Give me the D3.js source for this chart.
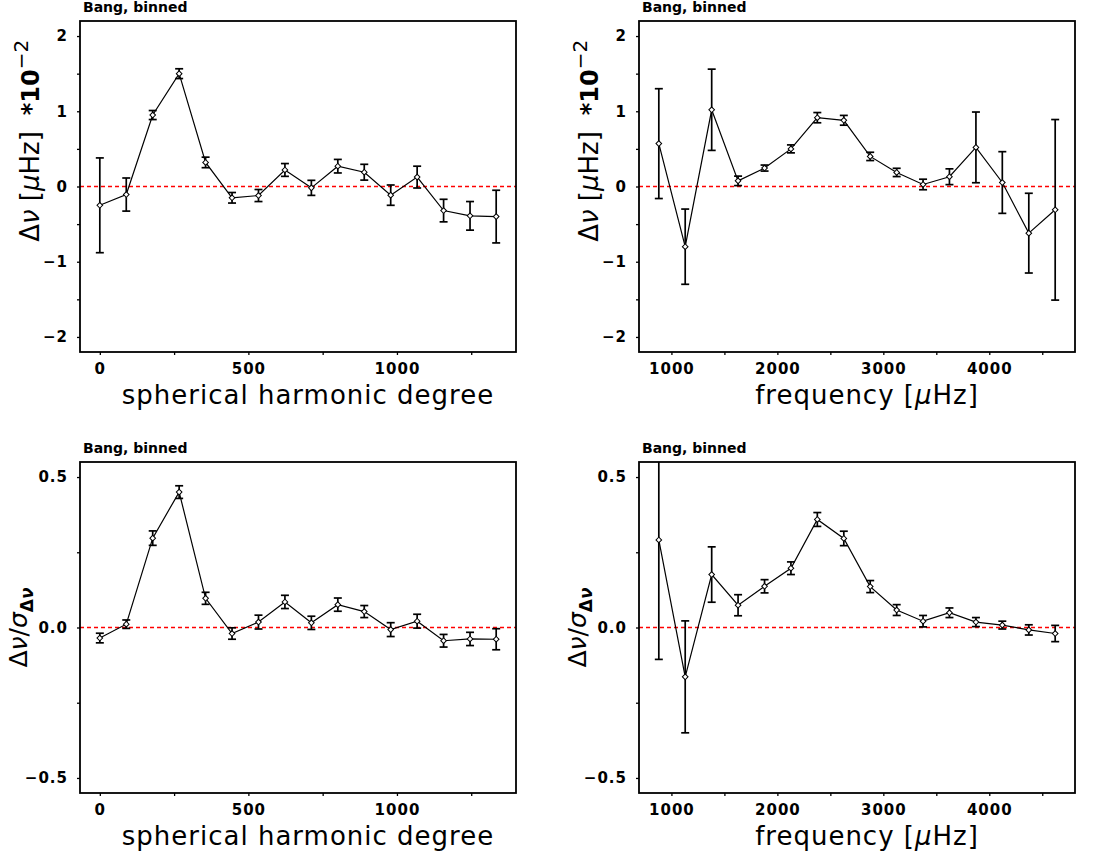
<!DOCTYPE html>
<html>
<head>
<meta charset="utf-8">
<script src="https://cdn.jsdelivr.net/npm/d3@7"></script>
<style>
  body { margin: 0; background: #fff; }
  svg { display: block; font-family: "DejaVu Sans", sans-serif; }
</style>
</head>
<body>
<script>
// bin centres
var degree = [0, 89, 178, 267, 356, 445, 534, 623, 712, 801, 890, 979, 1068, 1157, 1246, 1334];
var freq = [881, 1130, 1380, 1629, 1879, 2128, 2377, 2627, 2876, 3126, 3375, 3624, 3874, 4123, 4373, 4622];

// delta nu (units of 1e-2 microHz) and errors
var dnuDeg = [-0.25, -0.107, 0.95, 1.50, 0.32, -0.15, -0.12, 0.22, -0.018, 0.27, 0.19, -0.115, 0.125, -0.32, -0.39, -0.40];
var errDnuDeg = [0.63, 0.22, 0.06, 0.065, 0.07, 0.07, 0.08, 0.085, 0.10, 0.09, 0.105, 0.135, 0.145, 0.15, 0.19, 0.35];
var dnuFreq = [0.57, -0.80, 1.02, 0.075, 0.245, 0.50, 0.915, 0.88, 0.40, 0.187, 0.027, 0.13, 0.52, 0.053, -0.62, -0.31];
var errDnuFreq = [0.73, 0.50, 0.54, 0.063, 0.04, 0.053, 0.068, 0.065, 0.055, 0.055, 0.07, 0.105, 0.47, 0.41, 0.53, 1.20];

// delta nu / sigma
var ratioDeg = [-0.035, 0.011, 0.297, 0.45, 0.097, -0.02, 0.018, 0.085, 0.0155, 0.076, 0.053, -0.007, 0.021, -0.044, -0.038, -0.039];
var errRatioDeg = [0.016, 0.014, 0.024, 0.021, 0.02, 0.019, 0.023, 0.022, 0.022, 0.022, 0.02, 0.023, 0.023, 0.021, 0.022, 0.035];
var ratioFreq = [0.291, -0.164, 0.176, 0.074, 0.137, 0.197, 0.359, 0.296, 0.136, 0.058, 0.021, 0.049, 0.018, 0.008, -0.008, -0.02];
var errRatioFreq = [0.397, 0.186, 0.092, 0.035, 0.022, 0.021, 0.023, 0.024, 0.02, 0.018, 0.019, 0.016, 0.015, 0.013, 0.017, 0.027];

// ticks
var degTicks = [0, 250, 500, 750, 1000, 1250];
var degLabels = [0, 500, 1000];
var freqTicks = [1000, 1500, 2000, 2500, 3000, 3500, 4000, 4500];
var freqLabels = [1000, 2000, 3000, 4000];
var dnuTicks = [-2, -1.5, -1, -0.5, 0, 0.5, 1, 1.5, 2];
var dnuLabels = [-2, -1, 0, 1, 2];
var ratioTicks = [-0.5, -0.25, 0, 0.25, 0.5];
var ratioLabels = [-0.5, 0, 0.5];

var panelTitle = "Bang, binned";

var svg = d3.select("body").append("svg")
    .attr("width", 1101)
    .attr("height", 859);

var panels = [
  {left: 80, top: 21, xs: degree, ys: dnuDeg, es: errDnuDeg, yDom: [-2.2, 2.2],
   xt: degTicks, xl: degLabels, yt: dnuTicks, yl: dnuLabels, yfmt: d3.format("d"), xTitle: "deg", yTitle: "dnu"},
  {left: 639, top: 21, xs: freq, ys: dnuFreq, es: errDnuFreq, yDom: [-2.2, 2.2],
   xt: freqTicks, xl: freqLabels, yt: dnuTicks, yl: dnuLabels, yfmt: d3.format("d"), xTitle: "freq", yTitle: "dnu"},
  {left: 80, top: 462, xs: degree, ys: ratioDeg, es: errRatioDeg, yDom: [-0.55, 0.55],
   xt: degTicks, xl: degLabels, yt: ratioTicks, yl: ratioLabels, yfmt: d3.format(".1f"), xTitle: "deg", yTitle: "ratio"},
  {left: 639, top: 462, xs: freq, ys: ratioFreq, es: errRatioFreq, yDom: [-0.55, 0.55],
   xt: freqTicks, xl: freqLabels, yt: ratioTicks, yl: ratioLabels, yfmt: d3.format(".1f"), xTitle: "freq", yTitle: "ratio"}
];

var width = 436, height = 331;

// restyle an axis like the original plot
function styleAxis(a) {
    a.attr("font-size", 15)
     .attr("font-family", "DejaVu Sans")
     .attr("font-weight", "bold");
    a.select(".domain").remove();
    a.selectAll(".tick line").attr("stroke", "#000").attr("stroke-width", 1.3);
    a.selectAll(".tick text")
        .attr("font-size", 15)
        .attr("letter-spacing", 1)
        .attr("fill", "#000");
}

panels.forEach(function(p, idx) {
    var g = svg.append("g").attr("transform", "translate(" + p.left + "," + p.top + ")");

    // x range padded by 5% like the original plot
    var ext = d3.extent(p.xs), pad = (ext[1] - ext[0]) * 0.05;
    var x = d3.scaleLinear().domain([ext[0] - pad, ext[1] + pad]).range([0, width]);
    var y = d3.scaleLinear().domain(p.yDom).range([height, 0]);

    var clipId = "clip" + idx;
    g.append("clipPath").attr("id", clipId)
      .append("rect").attr("width", width).attr("height", height);

    // axes
    g.append("g")
        .attr("transform", "translate(0," + height + ")")
        .call(d3.axisBottom(x).tickValues(p.xt).tickSize(3).tickPadding(8)
            .tickFormat(function(d) { return p.xl.indexOf(d) >= 0 ? d : ""; }))
        .call(styleAxis);

    g.append("g")
        .call(d3.axisLeft(y).tickValues(p.yt).tickSize(3).tickPadding(9)
            .tickFormat(function(d) { return p.yl.indexOf(d) >= 0 ? p.yfmt(d) : ""; }))
        .call(styleAxis);

    var plot = g.append("g").attr("clip-path", "url(#" + clipId + ")");

    // zero line
    plot.append("line")
        .attr("x1", 0).attr("x2", width)
        .attr("y1", y(0)).attr("y2", y(0))
        .attr("stroke", "#ff0000")
        .attr("stroke-width", 1.3)
        .attr("stroke-dasharray", "4,3");

    var pts = p.xs.map(function(v, i) { return {x: v, y: p.ys[i], e: p.es[i]}; });

    // error bars
    var eb = plot.selectAll("g.err").data(pts).enter().append("g").attr("class", "err")
        .attr("stroke", "#000").attr("stroke-width", 1.7);
    eb.append("line")
        .attr("x1", function(d) { return x(d.x); }).attr("x2", function(d) { return x(d.x); })
        .attr("y1", function(d) { return y(d.y - d.e); }).attr("y2", function(d) { return y(d.y + d.e); });
    eb.append("line")
        .attr("x1", function(d) { return x(d.x) - 4; }).attr("x2", function(d) { return x(d.x) + 4; })
        .attr("y1", function(d) { return y(d.y + d.e); }).attr("y2", function(d) { return y(d.y + d.e); });
    eb.append("line")
        .attr("x1", function(d) { return x(d.x) - 4; }).attr("x2", function(d) { return x(d.x) + 4; })
        .attr("y1", function(d) { return y(d.y - d.e); }).attr("y2", function(d) { return y(d.y - d.e); });

    // connecting line
    plot.append("path").datum(pts)
        .attr("fill", "none")
        .attr("stroke", "#000")
        .attr("stroke-width", 1.2)
        .attr("d", d3.line().x(function(d) { return x(d.x); }).y(function(d) { return y(d.y); }));

    // diamond markers
    plot.selectAll("path.pt").data(pts).enter().append("path")
        .attr("class", "pt")
        .attr("d", d3.symbol().type(d3.symbolSquare).size(16))
        .attr("transform", function(d) { return "translate(" + x(d.x) + "," + y(d.y) + ") rotate(45)"; })
        .attr("fill", "#fff")
        .attr("stroke", "#000")
        .attr("stroke-width", 1);

    // frame
    g.append("rect")
        .attr("width", width).attr("height", height)
        .attr("fill", "none").attr("stroke", "#000").attr("stroke-width", 1.8);

    // panel title
    g.append("text")
        .attr("x", 3).attr("y", -9)
        .attr("font-size", 14).attr("font-weight", "bold")
        .text(panelTitle);

    // x title
    var xt = g.append("text")
        .attr("x", width / 2 + 10).attr("y", height + 52)
        .attr("text-anchor", "middle")
        .attr("font-size", 26)
        .attr("letter-spacing", 1);
    if (p.xTitle == "deg") {
        xt.text("spherical harmonic degree");
    } else {
        xt.append("tspan").text("frequency [");
        xt.append("tspan").attr("font-style", "italic").text("μ");
        xt.append("tspan").text("Hz]");
    }

    // y title
    if (p.yTitle == "dnu") {
        var yt = g.append("text")
            .attr("transform", "translate(-41," + (height / 2) + ") rotate(-90)")
            .attr("text-anchor", "middle")
            .attr("font-size", 26);
        yt.append("tspan").text("Δ");
        yt.append("tspan").attr("font-style", "italic").text("ν");
        yt.append("tspan").text("  [");
        yt.append("tspan").attr("font-style", "italic").text("μ");
        yt.append("tspan").text("Hz]");
        var len = yt.node().getComputedTextLength();
        var ex = g.append("text")
            .attr("transform", "translate(-41," + (height / 2 - len / 2 - 16) + ") rotate(-90)")
            .attr("font-size", 24).attr("font-weight", "bold");
        ex.append("tspan").text("*10");
        ex.append("tspan").attr("dy", -11).attr("font-size", 20).attr("font-weight", "normal").text("−2");
    } else {
        var yr = g.append("text")
            .attr("transform", "translate(-53," + (height / 2) + ") rotate(-90)")
            .attr("text-anchor", "middle")
            .attr("font-size", 25);
        yr.append("tspan").text("Δ");
        yr.append("tspan").attr("font-style", "italic").text("ν");
        yr.append("tspan").text("/");
        yr.append("tspan").attr("font-style", "italic").text("σ");
        yr.append("tspan").attr("dy", 6).attr("font-size", 17).attr("font-weight", "bold").text("Δ");
        yr.append("tspan").attr("font-size", 17).attr("font-weight", "bold").attr("font-style", "italic").text("ν");
    }
});
</script>
</body>
</html>
